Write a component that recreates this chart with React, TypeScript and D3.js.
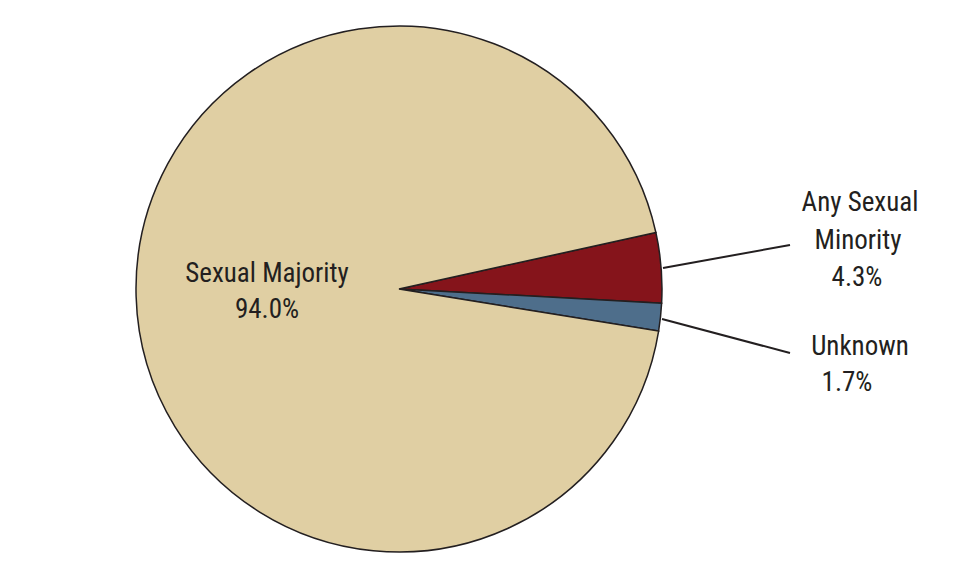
import React from "react";
import * as d3 from "d3";

const categories = ["Any Sexual Minority", "Unknown", "Sexual Majority"];
const values = [4.3, 1.7, 94.0];
const colors = ["#85141B", "#4E6E8B", "#E0CFA3"];

export default function App() {
  const cx = 399, cy = 289, r = 263;
  const pie = d3.pie<number>().sort(null).startAngle((77.6 * Math.PI) / 180).endAngle((77.6 * Math.PI) / 180 + 2 * Math.PI);
  const arcs = pie(values);
  const arc = d3.arc<d3.PieArcDatum<number>>().innerRadius(0).outerRadius(r);
  const font = "'Liberation Sans Narrow', 'Arial Narrow', 'Roboto Condensed', sans-serif";
  const ts = { fontFamily: font, fontSize: 27, fill: "#231F20" } as const;
  return (
    <svg width={970} height={577} style={{ position: "absolute", left: 0, top: 0 }}>
      <rect width={970} height={577} fill="#fff" />
      <g transform={`translate(${cx},${cy})`}>
        {arcs.map((a, i) => (
          <path key={categories[i]} d={arc(a) || ""} fill={colors[i]} stroke="#231F20" strokeWidth={1.5} />
        ))}
      </g>
      <line x1={663} y1={268} x2={790} y2={245} stroke="#231F20" strokeWidth={2} />
      <line x1={662} y1={319} x2={790} y2={353} stroke="#231F20" strokeWidth={2} />
      <g textAnchor="middle" {...ts}>
        <text x={267} y={282}>Sexual Majority</text>
        <text x={267} y={318}>{values[2].toFixed(1)}%</text>
        <text x={860} y={211}>Any Sexual</text>
        <text x={858} y={249}>Minority</text>
        <text x={857} y={286}>{values[0].toFixed(1)}%</text>
        <text x={860} y={355}>Unknown</text>
        <text x={847} y={391}>{values[1].toFixed(1)}%</text>
      </g>
    </svg>
  );
}
